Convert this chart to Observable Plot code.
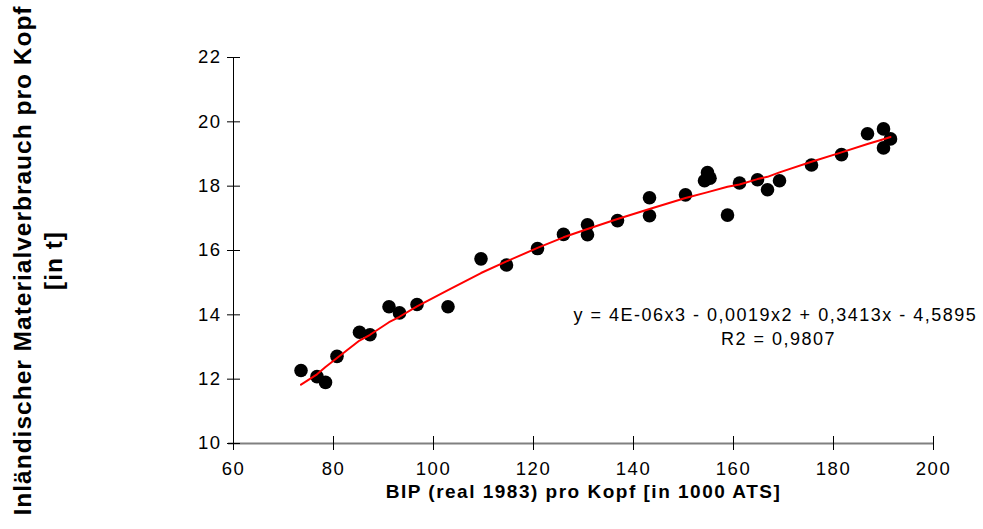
<!DOCTYPE html>
<html><head><meta charset="utf-8">
<script src="https://cdn.jsdelivr.net/npm/d3@7"></script>
<script src="https://cdn.jsdelivr.net/npm/@observablehq/plot@0.6"></script>
<style>body{margin:0;background:#fff} svg{display:block}</style>
</head><body><div id="chart"></div>
<script>
// BIP (real 1983) pro Kopf [in 1000 ATS]
const bip = [73.5, 76.7, 78.4, 80.7, 85.2, 87.3, 91.1, 93.2, 96.7, 102.9,
  109.5, 114.6, 120.8, 126.0, 130.8, 130.8, 136.8, 143.2, 143.2, 150.4,
  154.2, 154.8, 155.3, 158.8, 161.2, 164.8, 166.8, 169.2, 175.6, 181.6,
  186.8, 190.0, 191.4, 190.0];
// Inländischer Materialverbrauch pro Kopf [in t]
const dmc = [12.27, 12.08, 11.9, 12.71, 13.46, 13.38, 14.25, 14.06, 14.32, 14.25,
  15.74, 15.55, 16.06, 16.5, 16.8, 16.49, 16.93, 17.64, 17.08, 17.73,
  18.17, 18.42, 18.25, 17.1, 18.1, 18.2, 17.89, 18.17, 18.66, 18.98,
  19.63, 19.78, 19.47, 19.19];
// trend line (polynomial)
const trendX = [73.5, 76.7, 78.4, 80.7, 85.2, 87.3, 91.1, 93.2, 96.7, 102.9,
  109.5, 114.6, 120.8, 126.0, 130.8, 136.8, 143.2, 150.4, 154.5, 158.8,
  161.2, 164.8, 166.8, 169.2, 175.6, 181.6, 186.8, 190.0, 191.4];
const trendY = [11.83, 12.15, 12.38, 12.66, 13.2, 13.38, 13.77, 13.94, 14.26, 14.77,
  15.3, 15.66, 16.08, 16.41, 16.67, 16.98, 17.29, 17.63, 17.8, 17.98,
  18.05, 18.22, 18.29, 18.43, 18.76, 19.05, 19.31, 19.46, 19.53];
const xTicks = [60, 80, 100, 120, 140, 160, 180, 200];
const yTicks = [10, 12, 14, 16, 18, 20, 22];
const xTitle = "BIP (real 1983) pro Kopf [in 1000 ATS]";
const yTitle = "Inländischer Materialverbrauch pro Kopf\n[in t]";
const eqText = "y = 4E-06x3 - 0,0019x2 + 0,3413x - 4,5895";
const r2Text = "R2 = 0,9807";

const points = bip.map((x, i) => ({x, y: dmc[i]}));
const trend = trendX.map((x, i) => ({x, y: trendY[i]}));

const chart = Plot.plot({
  width: 983, height: 529,
  marginLeft: 233, marginRight: 50, marginTop: 57, marginBottom: 86,
  style: {fontFamily: "'Liberation Sans', Arial, sans-serif", background: "#fff", color: "#000", overflow: "visible", letterSpacing: "1.5px"},
  x: {domain: [60, 200]},
  y: {domain: [10, 22]},
  marks: [
    Plot.ruleY([10], {stroke: "#808080", strokeWidth: 2, insetLeft: -5}),
    Plot.ruleX([60], {stroke: "#000"}),
    Plot.axisX({ticks: xTicks, tickSize: 14, dy: -7, tickFormat: () => "", label: null, stroke: "#000"}),
    Plot.axisX({ticks: xTicks, tickSize: 0, tickPadding: 18, fontSize: 18.5, label: null}),
    Plot.axisY({ticks: yTicks, tickSize: 13, dx: 7, tickFormat: () => "", label: null, stroke: "#000"}),
    Plot.axisY({ticks: yTicks, tickSize: 0, tickPadding: 12, fontSize: 18.5, label: null}),
    Plot.dot(points, {x: "x", y: "y", r: 6.8, fill: "#000", stroke: "none"}),
    Plot.line(trend, {x: "x", y: "y", stroke: "#ff0000", strokeWidth: 2}),
    Plot.text([eqText], {frameAnchor: "left", dx: 340, dy: 65, textAnchor: "start", fontSize: 18}),
    Plot.text([r2Text], {frameAnchor: "left", dx: 545, dy: 89, textAnchor: "middle", fontSize: 18}),
    Plot.text([xTitle], {frameAnchor: "bottom", dy: 54, fontSize: 19, fontWeight: "bold"}),
    Plot.text([yTitle], {frameAnchor: "left", dx: -197, dy: 10, rotate: -90, textAnchor: "middle", lineAnchor: "middle", fontSize: 24.5, fontWeight: "bold", lineHeight: 1.25})
  ]
});
d3.select(chart).selectAll("text").each(function() {
  const t = this.textContent;
  if (t.startsWith("Inländischer")) d3.select(this).style("letter-spacing", "1px");
});
document.getElementById("chart").appendChild(chart);
</script>
</body></html>
